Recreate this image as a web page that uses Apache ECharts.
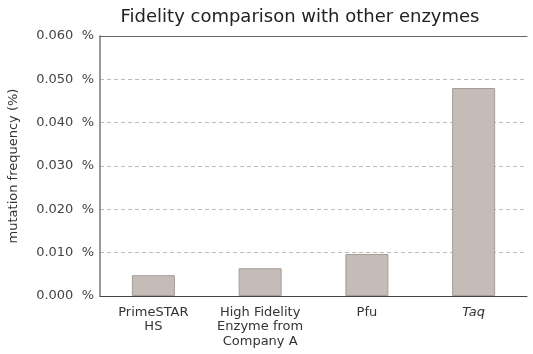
<!DOCTYPE html>
<html>
<head>
<meta charset="utf-8">
<script src="https://cdn.jsdelivr.net/npm/echarts@6/dist/echarts.min.js"></script>
<style>
html,body{margin:0;padding:0;background:#fff;}
#main{width:533px;height:354px;}
</style>
</head>
<body>
<div id="main"></div>
<script>
// categories and values
var enzymes = ['PrimeSTAR\nHS', 'High Fidelity\nEnzyme from\nCompany A', 'Pfu', 'Taq'];
var frequency = [0.0048, 0.0064, 0.0097, 0.048];
var yTicks = [0, 0.01, 0.02, 0.03, 0.04, 0.05, 0.06];

var myChart = echarts.init(document.getElementById('main'));
var font = 'DejaVu Sans';
var option = {
    animation: false,
    title: {
        text: 'Fidelity comparison with other enzymes',
        left: 295,
        textAlign: 'center',
        top: 3,
        textStyle: {fontFamily: font, fontSize: 18, fontWeight: 'normal', color: '#222'}
    },
    grid: {left: 100, right: 6, top: 36, bottom: 58, outerBoundsMode: 'none'},
    xAxis: [{
        type: 'category',
        data: enzymes,
        axisLine: {lineStyle: {color: '#444', width: 1}},
        axisTick: {inside: true, length: 3, lineStyle: {color: '#aaa'}},
        axisLabel: {
            interval: 0,
            fontFamily: font, fontSize: 13, color: '#333', lineHeight: 14.5, margin: 9,
            formatter: function (v) { return v === 'Taq' ? '{i|Taq}' : v; },
            rich: {i: {fontStyle: 'italic', fontFamily: font, fontSize: 13, color: '#333'}}
        }
    }, {
        type: 'category',
        position: 'top',
        data: enzymes,
        axisLine: {lineStyle: {color: '#666', width: 1}},
        axisTick: {show: false},
        axisLabel: {show: false}
    }],
    yAxis: {
        type: 'value',
        min: yTicks[0],
        max: yTicks[yTicks.length - 1],
        interval: 0.01,
        name: 'mutation frequency (%)',
        nameLocation: 'middle',
        nameGap: 80,
        nameTextStyle: {fontFamily: font, fontSize: 13, color: '#333'},
        axisLine: {show: true, lineStyle: {color: '#777', width: 1.5}},
        axisTick: {show: false},
        axisLabel: {
            fontFamily: font, fontSize: 13, color: '#444', margin: 6,
            formatter: function (v) { return v.toFixed(3) + '  %'; }
        },
        splitLine: {lineStyle: {color: '#bbb', type: [4, 3]}}
    },
    series: [{
        type: 'bar',
        data: frequency,
        barWidth: 43,
        itemStyle: {color: '#c5bcb7', borderColor: '#a59d98', borderWidth: 1}
    }]
};
myChart.setOption(option);
</script>
</body>
</html>
